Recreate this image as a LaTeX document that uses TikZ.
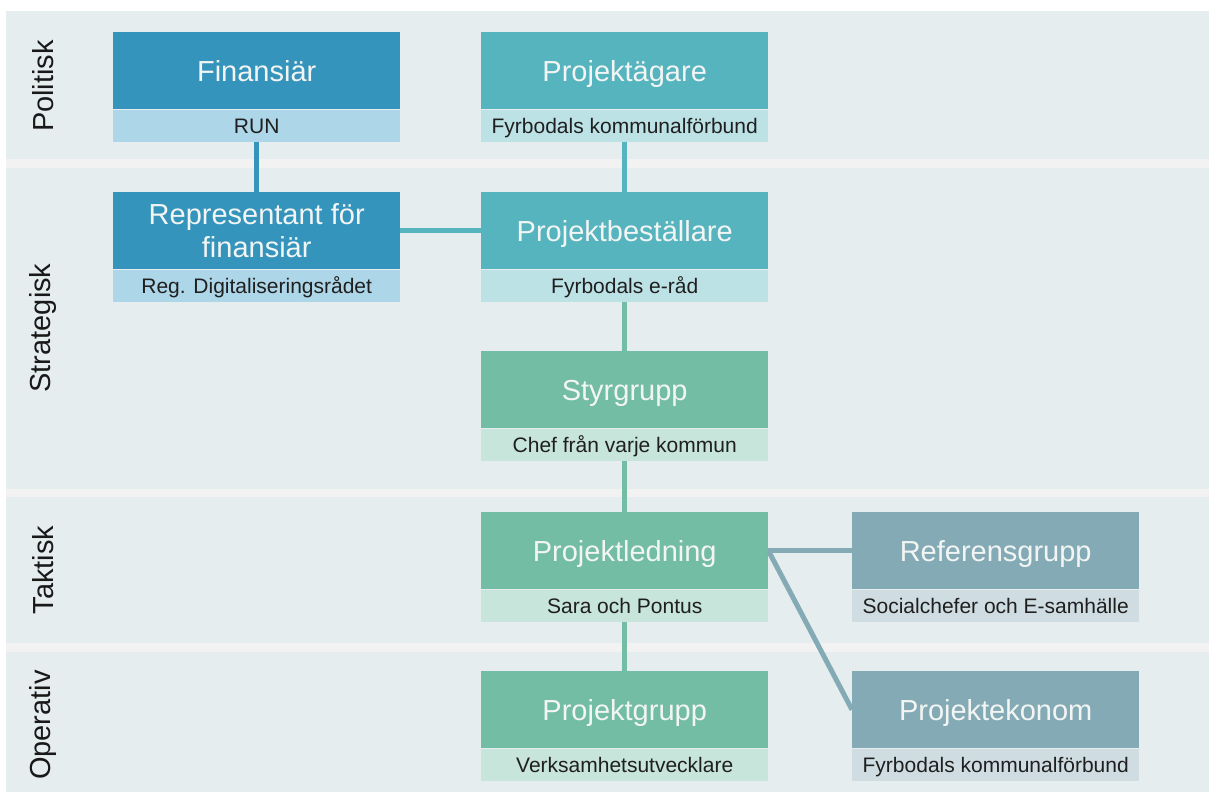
\documentclass[tikz,border=0pt]{standalone}
\usepackage{fontspec}
\setmainfont{Liberation Sans}
\usetikzlibrary{positioning}
\definecolor{bandbg}{HTML}{E6EDEF}
\definecolor{sepgray}{HTML}{F2F2F2}
\definecolor{finblue}{HTML}{3594BC}
\definecolor{finlight}{HTML}{ADD6E8}
\definecolor{ownteal}{HTML}{56B4BF}
\definecolor{ownlight}{HTML}{BDE2E6}
\definecolor{projgreen}{HTML}{74BDA5}
\definecolor{projlight}{HTML}{C7E5DB}
\definecolor{refgrey}{HTML}{84ABB5}
\definecolor{reflight}{HTML}{CFDDE2}
\definecolor{headtxt}{HTML}{F2F5F3}
\tikzset{
	headbox/.style={minimum width=287pt, minimum height=77pt, inner sep=0pt, text=headtxt, align=center, text height=21pt, text depth=0pt, font=\fontsize{29}{33}\selectfont},
	headtwo/.style={text height=, text depth=},
	subbox/.style={minimum width=287pt, minimum height=32pt, inner sep=0pt, text=black!88, text height=15pt, text depth=0pt, font=\fontsize{21}{23}\selectfont},
	link/.style={line width=5pt},
	level/.style={rotate=90, font=\fontsize{29}{32}\selectfont, text=black!90}
}
\def\orgbox(#1)(#2,#3)[#4][#5]#6#7{%
	\node[headbox, fill=#4, anchor=north west] (#1) at (#2,#3) {#6};
	\node[subbox, fill=#5, below=0pt of #1] (#1-sub) {#7};}

\begin{document}
\begin{tikzpicture}[x=1pt, y=-1pt]
		%%%%% START %%%%%
		\useasboundingbox (0,0) rectangle (1209,792);
		\fill[white] (0,0) rectangle (1209,792);
		\fill[sepgray] (6,11) rectangle (1209,792);
		
		\fill[bandbg] (6,11) rectangle (1209,159);
		\fill[bandbg] (6,168) rectangle (1209,489);
		\fill[bandbg] (6,497) rectangle (1209,643);
		\fill[bandbg] (6,652) rectangle (1209,792);
		
		\node[level] (politisk) at (43,86) {Politisk};
		\node[level] (strategisk) at (43,328) {Strategisk};
		\node[level] (taktisk) at (43,570) {Taktisk};
		\node[level] (operativ) at (43,725) {Operativ};
		
		\orgbox(fin)(113,32)[finblue][finlight]{Finansiär}{RUN}
		\orgbox(agare)(481,32)[ownteal][ownlight]{Projektägare}{Fyrbodals kommunalförbund}
		\orgbox(rep)(113,192)[finblue, headtwo][finlight]{Representant för\\finansiär}{Reg. Digitaliseringsrådet}
		\orgbox(best)(481,192)[ownteal][ownlight]{Projektbeställare}{Fyrbodals e-råd}
		\orgbox(styr)(481,351)[projgreen][projlight]{Styrgrupp}{Chef från varje kommun}
		\orgbox(led)(481,512)[projgreen][projlight]{Projektledning}{Sara och Pontus}
		\orgbox(grupp)(481,671)[projgreen][projlight]{Projektgrupp}{Verksamhetsutvecklare}
		\orgbox(ref)(852,512)[refgrey][reflight]{Referensgrupp}{Socialchefer och E-samhälle}
		\orgbox(ekon)(852,671)[refgrey][reflight]{Projektekonom}{Fyrbodals kommunalförbund}
		
		\draw[link, finblue] (fin-sub.south) -- (rep.north);
		\draw[link, ownteal] (rep.east) -- (best.west);
		\draw[link, ownteal] (agare-sub.south) -- (best.north);
		\draw[link, projgreen] (best-sub.south) -- (styr.north);
		\draw[link, projgreen] (styr-sub.south) -- (led.north);
		\draw[link, projgreen] (led-sub.south) -- (grupp.north);
		\draw[link, refgrey] (led.east) -- (ref.west);
		\draw[link, refgrey] (led.east) -- (ekon.west);
		%%%%% END %%%%%
\end{tikzpicture}
\end{document}
